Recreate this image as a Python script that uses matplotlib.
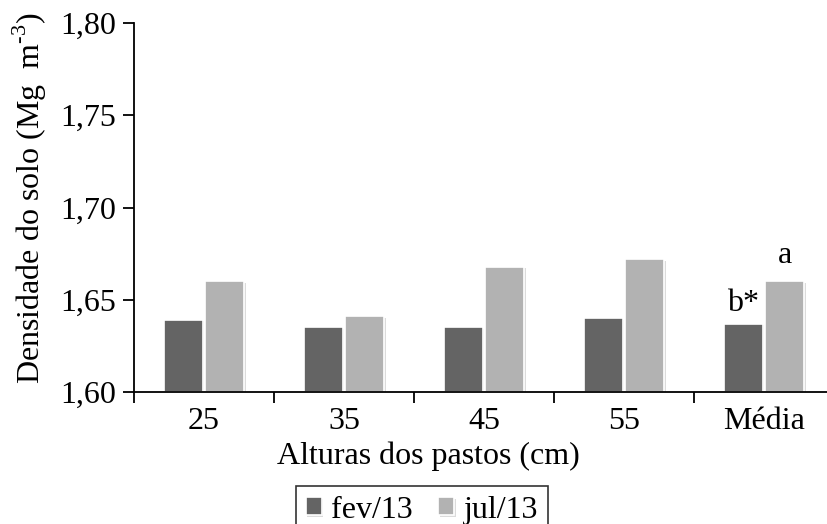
import matplotlib
matplotlib.use("Agg")
import matplotlib.pyplot as plt
import matplotlib.patheffects as pe
import numpy as np

plt.rcParams["font.family"] = ["Liberation Serif", "DejaVu Serif"]
plt.rcParams["mathtext.fontset"] = "custom"
plt.rcParams["mathtext.rm"] = "Liberation Serif"

categories = ["25", "35", "45", "55", "Média"]
fev_13 = [1.639, 1.635, 1.635, 1.640, 1.637]
jul_13 = [1.660, 1.641, 1.668, 1.672, 1.660]
series_names = ["fev/13", "jul/13"]
media_labels = ["b*", "a"]

dark = "#646464"
light = "#b2b2b2"
fs = 23

fig = plt.figure(figsize=(8.28, 5.24), dpi=100)
W, H = 828, 524
ax = fig.add_axes([134 / W, (H - 392) / H, (834 - 134) / W, (392 - 23) / H])

x = np.arange(len(categories))
bw = 0.28
shadow = [pe.withSimplePatchShadow(offset=(1, -1), shadow_rgbFace="#999999", alpha=0.35)]
b1 = ax.bar(x - bw / 2 - 0.007, [v - 1.6 for v in fev_13], bw, bottom=1.6,
            color=dark, edgecolor="white", linewidth=1.2, label=series_names[0],
            path_effects=shadow)
b2 = ax.bar(x + bw / 2 + 0.007, [v - 1.6 for v in jul_13], bw, bottom=1.6,
            color=light, edgecolor="white", linewidth=1.2, label=series_names[1],
            path_effects=shadow)

# letras de significancia na media
last = len(categories) - 1
ax.text(x[last] - bw / 2 - 0.007, fev_13[last] + 0.003, media_labels[0],
        ha="center", va="bottom", fontsize=fs)
ax.text(x[last] + bw / 2 + 0.007, jul_13[last] + 0.006, media_labels[1],
        ha="center", va="bottom", fontsize=fs)

ax.set_xlim(-0.5, len(categories) - 0.5)
ax.set_ylim(1.60, 1.80)
yt = [1.60, 1.65, 1.70, 1.75, 1.80]
ax.set_yticks(yt)
ax.set_yticklabels([f"{t:.2f}".replace(".", ",") for t in yt])

ax.set_xticks(np.arange(len(categories) + 1) - 0.5)
ax.set_xticklabels([])
ax.set_xticks(x, minor=True)
ax.set_xticklabels(categories, minor=True)
ax.tick_params(axis="x", which="major", direction="out", length=8, width=1.3)
ax.tick_params(axis="x", which="minor", length=0, pad=11, labelsize=fs)
ax.tick_params(axis="y", direction="out", length=8, width=1.3, pad=5, labelsize=fs)

for side in ["top", "right"]:
    ax.spines[side].set_visible(False)
for side in ["left", "bottom"]:
    ax.spines[side].set_linewidth(1.3)

fig.text(30 / W, 1 - 198 / H, r"Densidade do solo (Mg  m$^{\text{-3}}$)", rotation=90,
         ha="center", va="center", fontsize=fs)
fig.text(428 / W, 1 - 456 / H, "Alturas dos pastos (cm)", ha="center", va="center",
         fontsize=fs)

leg = fig.legend(handles=[b1, b2], loc="upper center", bbox_to_anchor=(422 / W, 1 - 486 / H),
                 ncol=2, fontsize=fs, frameon=True, fancybox=False, handlelength=0.5,
                 handleheight=0.5, handletextpad=0.3, columnspacing=0.8, borderpad=0.3,
                 borderaxespad=0)
leg.get_frame().set_edgecolor("black")
leg.get_frame().set_linewidth(1.2)

fig.savefig("out.png", dpi=100)
